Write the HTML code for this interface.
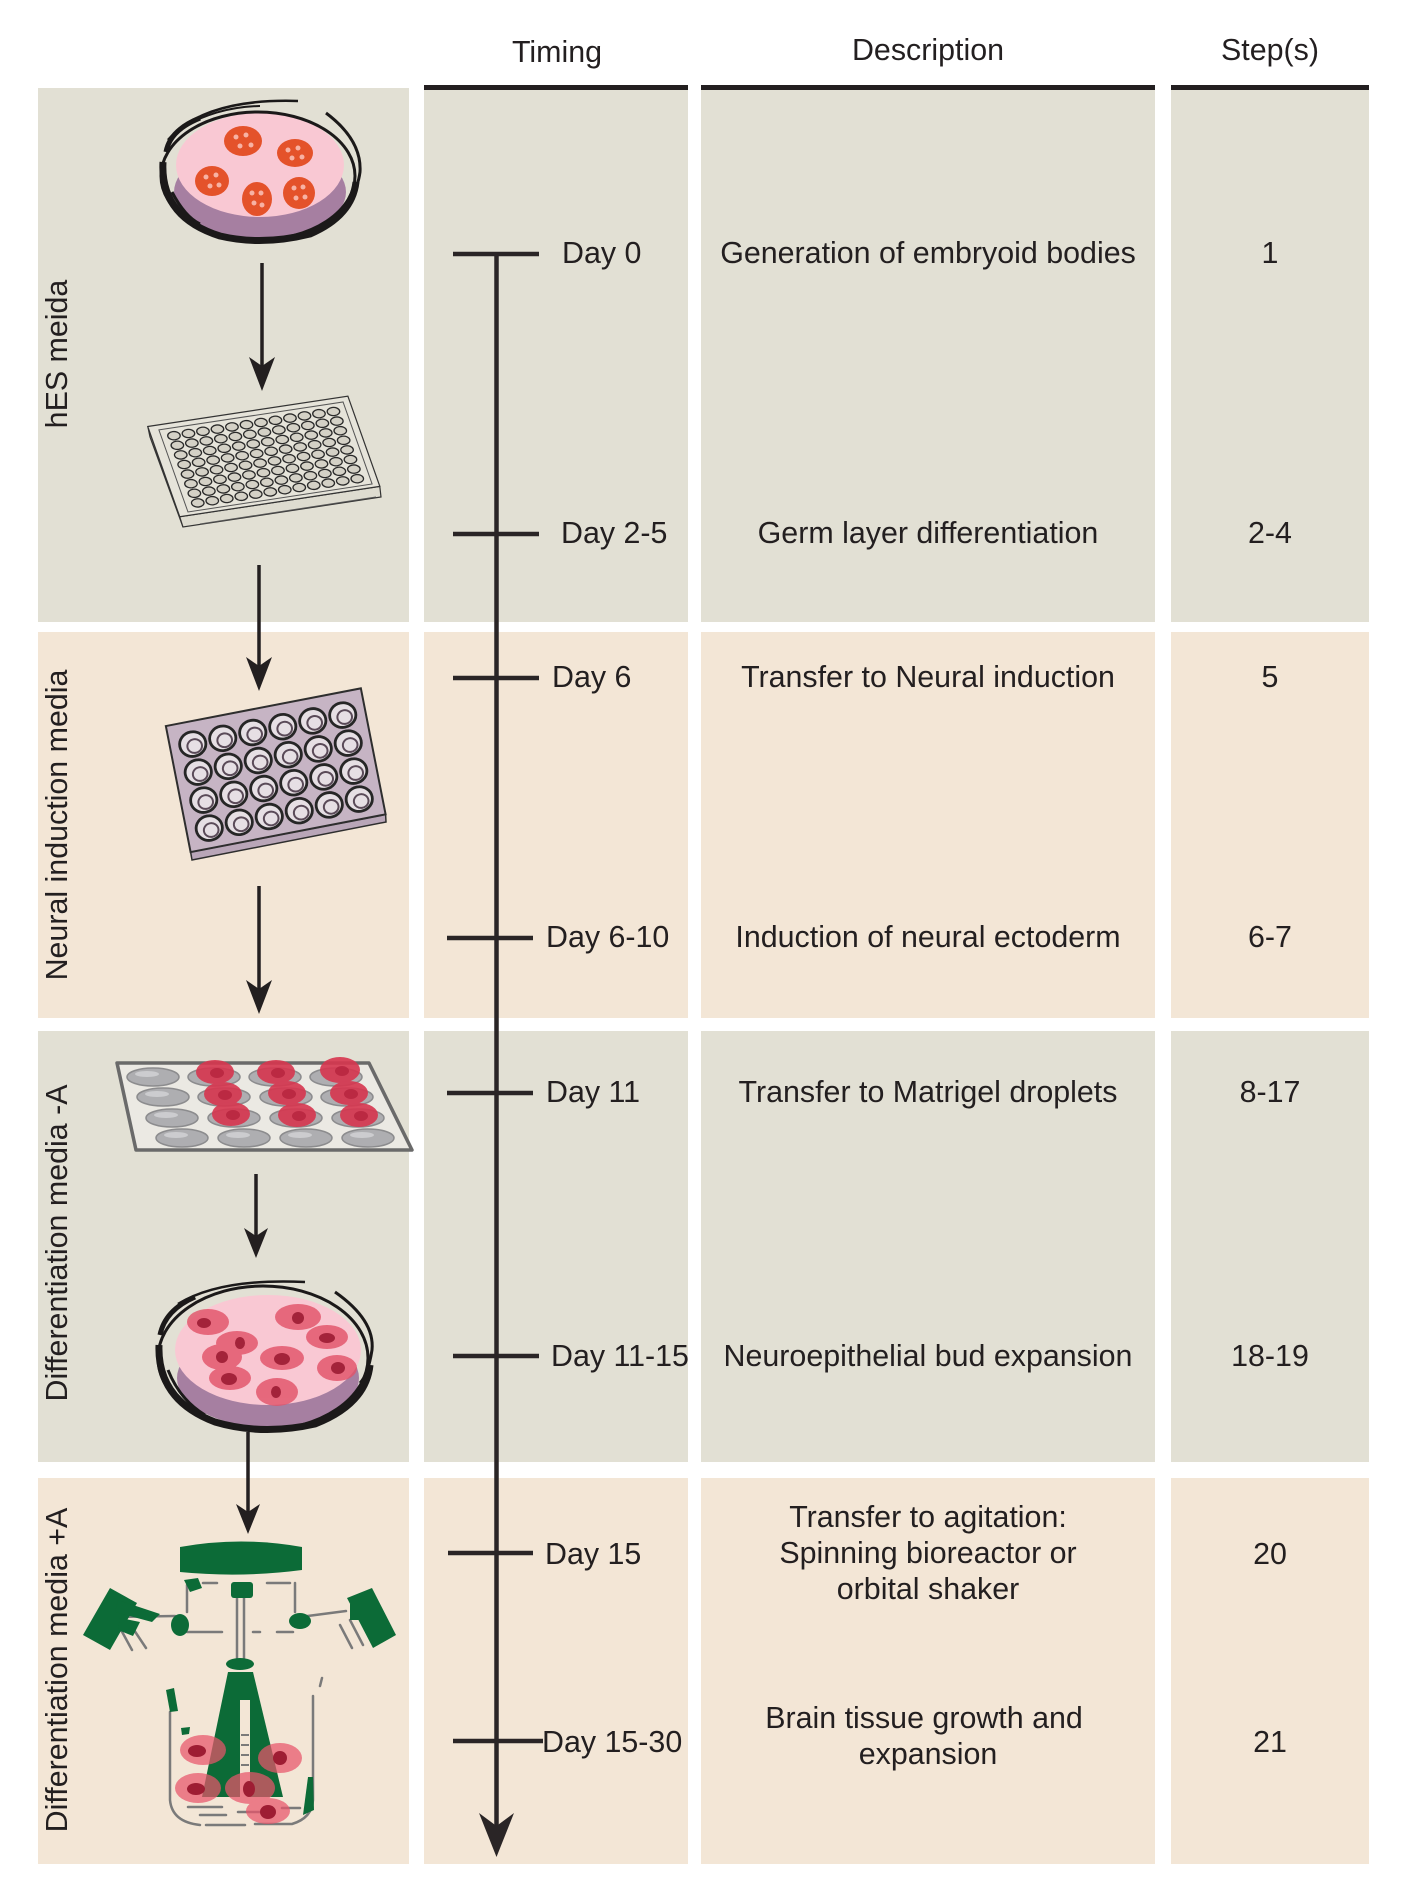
<!DOCTYPE html>
<html>
<head>
<meta charset="utf-8">
<style>
  html, body { margin: 0; padding: 0; background: #ffffff; }
  svg { display: block; }
  text { font-family: "Liberation Sans", Arial, Helvetica, sans-serif; fill: #231f20; }
</style>
</head>
<body>
<svg xmlns="http://www.w3.org/2000/svg" xmlns:xlink="http://www.w3.org/1999/xlink" width="1422" height="1886" viewBox="0 0 1422 1886">
  <rect x="0" y="0" width="1422" height="1886" fill="#ffffff"/>

  <!-- ===== Row backgrounds ===== -->
  <rect x="38" y="88" width="371" height="534" fill="#e2e0d4"/>
  <rect x="424" y="89" width="264" height="533" fill="#e2e0d4"/>
  <rect x="701" y="89" width="454" height="533" fill="#e2e0d4"/>
  <rect x="1171" y="89" width="198" height="533" fill="#e2e0d4"/>
  <rect x="38" y="632" width="371" height="386" fill="#f3e6d6"/>
  <rect x="424" y="632" width="264" height="386" fill="#f3e6d6"/>
  <rect x="701" y="632" width="454" height="386" fill="#f3e6d6"/>
  <rect x="1171" y="632" width="198" height="386" fill="#f3e6d6"/>
  <rect x="38" y="1031" width="371" height="431" fill="#e2e0d4"/>
  <rect x="424" y="1031" width="264" height="431" fill="#e2e0d4"/>
  <rect x="701" y="1031" width="454" height="431" fill="#e2e0d4"/>
  <rect x="1171" y="1031" width="198" height="431" fill="#e2e0d4"/>
  <rect x="38" y="1478" width="371" height="386" fill="#f3e6d6"/>
  <rect x="424" y="1478" width="264" height="386" fill="#f3e6d6"/>
  <rect x="701" y="1478" width="454" height="386" fill="#f3e6d6"/>
  <rect x="1171" y="1478" width="198" height="386" fill="#f3e6d6"/>

  <!-- ===== Header ===== -->
  <text x="557" y="62" font-size="30.4" text-anchor="middle">Timing</text>
  <text x="928" y="60" font-size="30.4" text-anchor="middle">Description</text>
  <text x="1270" y="60" font-size="30.4" text-anchor="middle">Step(s)</text>
  <rect x="424" y="85" width="264" height="5" fill="#231f20"/>
  <rect x="701" y="85" width="454" height="5" fill="#231f20"/>
  <rect x="1171" y="85" width="198" height="5" fill="#231f20"/>

  <!-- ===== Vertical side labels ===== -->
  <text font-size="30.4" text-anchor="middle" transform="translate(67,354) rotate(-90)">hES meida</text>
  <text font-size="30.4" text-anchor="middle" transform="translate(67,825) rotate(-90)">Neural induction media</text>
  <text font-size="30.4" text-anchor="middle" transform="translate(67,1243) rotate(-90)">Differentiation media -A</text>
  <text font-size="30.4" text-anchor="middle" transform="translate(67,1670) rotate(-90)">Differentiation media +A</text>

  <!-- ===== Timeline ===== -->
  <line x1="496.5" y1="253" x2="496.5" y2="1828" stroke="#2a2526" stroke-width="4.5"/>
  <path d="M496.5,1857 L479,1813 L496.5,1826 L514,1813 Z" fill="#2a2526"/>
  <g stroke="#2a2526" stroke-width="4.5">
    <line x1="453" y1="254" x2="539" y2="254"/>
    <line x1="453" y1="534" x2="539" y2="534"/>
    <line x1="453" y1="678" x2="539" y2="678"/>
    <line x1="447" y1="938" x2="533" y2="938"/>
    <line x1="447" y1="1093" x2="533" y2="1093"/>
    <line x1="453" y1="1356" x2="539" y2="1356"/>
    <line x1="448" y1="1553" x2="533" y2="1553"/>
    <line x1="453" y1="1741" x2="543" y2="1741"/>
  </g>
  <g font-size="30.4">
    <text x="562" y="263">Day 0</text>
    <text x="561" y="543">Day 2-5</text>
    <text x="552" y="687">Day 6</text>
    <text x="546" y="947">Day 6-10</text>
    <text x="546" y="1102">Day 11</text>
    <text x="551" y="1366">Day 11-15</text>
    <text x="545" y="1564">Day 15</text>
    <text x="542" y="1752">Day 15-30</text>
  </g>

  <!-- ===== Descriptions ===== -->
  <g font-size="30.4" text-anchor="middle">
    <text x="928" y="263">Generation of embryoid bodies</text>
    <text x="928" y="543">Germ layer differentiation</text>
    <text x="928" y="687">Transfer to Neural induction</text>
    <text x="928" y="947">Induction of neural ectoderm</text>
    <text x="928" y="1102">Transfer to Matrigel droplets</text>
    <text x="928" y="1366">Neuroepithelial bud expansion</text>
    <text x="928" y="1527">Transfer to agitation:</text>
    <text x="928" y="1563">Spinning bioreactor or</text>
    <text x="928" y="1599">orbital shaker</text>
    <text x="924" y="1728">Brain tissue growth and</text>
    <text x="928" y="1764">expansion</text>
  </g>

  <!-- ===== Steps ===== -->
  <g font-size="30.4" text-anchor="middle">
    <text x="1270" y="263">1</text>
    <text x="1270" y="543">2-4</text>
    <text x="1270" y="687">5</text>
    <text x="1270" y="947">6-7</text>
    <text x="1270" y="1102">8-17</text>
    <text x="1270" y="1366">18-19</text>
    <text x="1270" y="1564">20</text>
    <text x="1270" y="1752">21</text>
  </g>

  <!-- ===== Left-panel arrows ===== -->
  <g stroke="#231f20" stroke-width="3.5">
    <line x1="262" y1="263" x2="262" y2="372"/>
    <line x1="259" y1="565" x2="259" y2="672"/>
    <line x1="259" y1="886" x2="259" y2="995"/>
    <line x1="256" y1="1174" x2="256" y2="1240"/>
    <line x1="248" y1="1432" x2="248" y2="1515"/>
  </g>
  <g fill="#231f20">
    <path d="M262,391 L249,357 L262,366 L275,357 Z"/>
    <path d="M259,691 L246,657 L259,666 L272,657 Z"/>
    <path d="M259,1014 L246,980 L259,989 L272,980 Z"/>
    <path d="M256,1258 L244,1228 L256,1236 L268,1228 Z"/>
    <path d="M248,1534 L236,1504 L248,1512 L260,1504 Z"/>
  </g>

  <!-- ===== Petri dish 1 (embryoid bodies) ===== -->
  <g>
    <ellipse cx="260" cy="192" rx="86" ry="47" fill="#a67fa1"/>
    <ellipse cx="260" cy="165" rx="84" ry="52" fill="#f9c8d3"/>
    <ellipse cx="258" cy="176" rx="97" ry="64" fill="none" stroke="#1b1919" stroke-width="3"/>
    <path d="M163,162 Q160,217 220,236 Q262,246 310,234 Q352,216 356,182" fill="none" stroke="#1b1919" stroke-width="7"/>
    <path d="M166,152 Q170,130 200,118" fill="none" stroke="#1b1919" stroke-width="5"/>
    <path d="M168,140 Q205,98 298,101" fill="none" stroke="#1b1919" stroke-width="2.5"/>
    <path d="M178,130 Q215,107 260,106" fill="none" stroke="#1b1919" stroke-width="2"/>
    <path d="M326,113 Q362,140 360,172 Q358,187 352,192" fill="none" stroke="#1b1919" stroke-width="3"/>
    <path d="M172,192 Q185,217 200,224" fill="none" stroke="#1b1919" stroke-width="3"/>
    <g fill="#e4522a">
      <ellipse cx="243" cy="141" rx="19" ry="15"/>
      <ellipse cx="295" cy="153" rx="18" ry="14"/>
      <ellipse cx="212" cy="181" rx="17" ry="15"/>
      <ellipse cx="257" cy="199" rx="15" ry="17"/>
      <ellipse cx="299" cy="193" rx="16" ry="16"/>
    </g>
    <g fill="#f7b2a4">
      <circle cx="236" cy="137" r="2.5"/><circle cx="246" cy="135" r="2.5"/><circle cx="240" cy="146" r="2.5"/><circle cx="251" cy="145" r="2.5"/>
      <circle cx="288" cy="150" r="2.5"/><circle cx="298" cy="148" r="2.5"/><circle cx="292" cy="158" r="2.5"/><circle cx="302" cy="157" r="2.5"/>
      <circle cx="206" cy="177" r="2.5"/><circle cx="216" cy="175" r="2.5"/><circle cx="210" cy="186" r="2.5"/><circle cx="219" cy="185" r="2.5"/>
      <circle cx="252" cy="193" r="2.5"/><circle cx="261" cy="193" r="2.5"/><circle cx="254" cy="203" r="2.5"/><circle cx="262" cy="205" r="2.5"/>
      <circle cx="294" cy="188" r="2.5"/><circle cx="303" cy="187" r="2.5"/><circle cx="296" cy="198" r="2.5"/><circle cx="305" cy="197" r="2.5"/>
    </g>
  </g>

  <!-- ===== 96-well plate ===== -->
  <g>
    <polygon points="147.8,426.5 179.7,516.8 183,527 150,437" fill="#dedcd0" stroke="#333" stroke-width="1.2"/>
    <polygon points="179.7,516.8 379.8,486.4 381,497 183,527" fill="#dedcd0" stroke="#333" stroke-width="1.2"/>
    <line x1="200" y1="524" x2="376" y2="497" stroke="#555" stroke-width="1"/>
    <g transform="matrix(14.5,-2.2,3.4,9.6,165,432)">
      <polygon points="-1,-0.8 12.8,-0.8 12.8,8.6 -1,8.6" fill="#e6e4da" stroke="#333" stroke-width="1.2" vector-effect="non-scaling-stroke"/>
      <polygon points="-0.35,-0.3 12.35,-0.3 12.35,8.25 -0.35,8.25" fill="none" stroke="#555" stroke-width="1" vector-effect="non-scaling-stroke"/>
      <g id="r96">
        <circle cx="0.5" cy="0.5" r="0.42" fill="#d4d1c6" stroke="#2a2a2a" stroke-width="1.3" vector-effect="non-scaling-stroke"/>
        <circle cx="1.5" cy="0.5" r="0.42" fill="#d4d1c6" stroke="#2a2a2a" stroke-width="1.3" vector-effect="non-scaling-stroke"/>
        <circle cx="2.5" cy="0.5" r="0.42" fill="#d4d1c6" stroke="#2a2a2a" stroke-width="1.3" vector-effect="non-scaling-stroke"/>
        <circle cx="3.5" cy="0.5" r="0.42" fill="#d4d1c6" stroke="#2a2a2a" stroke-width="1.3" vector-effect="non-scaling-stroke"/>
        <circle cx="4.5" cy="0.5" r="0.42" fill="#d4d1c6" stroke="#2a2a2a" stroke-width="1.3" vector-effect="non-scaling-stroke"/>
        <circle cx="5.5" cy="0.5" r="0.42" fill="#d4d1c6" stroke="#2a2a2a" stroke-width="1.3" vector-effect="non-scaling-stroke"/>
        <circle cx="6.5" cy="0.5" r="0.42" fill="#d4d1c6" stroke="#2a2a2a" stroke-width="1.3" vector-effect="non-scaling-stroke"/>
        <circle cx="7.5" cy="0.5" r="0.42" fill="#d4d1c6" stroke="#2a2a2a" stroke-width="1.3" vector-effect="non-scaling-stroke"/>
        <circle cx="8.5" cy="0.5" r="0.42" fill="#d4d1c6" stroke="#2a2a2a" stroke-width="1.3" vector-effect="non-scaling-stroke"/>
        <circle cx="9.5" cy="0.5" r="0.42" fill="#d4d1c6" stroke="#2a2a2a" stroke-width="1.3" vector-effect="non-scaling-stroke"/>
        <circle cx="10.5" cy="0.5" r="0.42" fill="#d4d1c6" stroke="#2a2a2a" stroke-width="1.3" vector-effect="non-scaling-stroke"/>
        <circle cx="11.5" cy="0.5" r="0.42" fill="#d4d1c6" stroke="#2a2a2a" stroke-width="1.3" vector-effect="non-scaling-stroke"/>
      </g>
      <use xlink:href="#r96" href="#r96" y="1"/>
      <use xlink:href="#r96" href="#r96" y="2"/>
      <use xlink:href="#r96" href="#r96" y="3"/>
      <use xlink:href="#r96" href="#r96" y="4"/>
      <use xlink:href="#r96" href="#r96" y="5"/>
      <use xlink:href="#r96" href="#r96" y="6"/>
      <use xlink:href="#r96" href="#r96" y="7"/>
    </g>
  </g>

  <!-- ===== 24-well plate (purple) ===== -->
  <g>
    <polygon points="190.6,852 385.6,814.4 386,822 192,860" fill="#b9a6b8" stroke="#2e2e2e" stroke-width="1.5"/>
    <g transform="matrix(30,-5.8,5.5,28,175,733)">
      <polygon points="-0.25,-0.3 6.25,-0.3 6.25,4.2 -0.25,4.2" fill="#c6b4c4" stroke="#2e2e2e" stroke-width="2" vector-effect="non-scaling-stroke"/>
      <g id="r24">
        <circle cx="0.5" cy="0.5" r="0.43" fill="#e6dfe4" stroke="#262626" stroke-width="2.8" vector-effect="non-scaling-stroke"/>
        <circle cx="1.5" cy="0.5" r="0.43" fill="#e6dfe4" stroke="#262626" stroke-width="2.8" vector-effect="non-scaling-stroke"/>
        <circle cx="2.5" cy="0.5" r="0.43" fill="#e6dfe4" stroke="#262626" stroke-width="2.8" vector-effect="non-scaling-stroke"/>
        <circle cx="3.5" cy="0.5" r="0.43" fill="#e6dfe4" stroke="#262626" stroke-width="2.8" vector-effect="non-scaling-stroke"/>
        <circle cx="4.5" cy="0.5" r="0.43" fill="#e6dfe4" stroke="#262626" stroke-width="2.8" vector-effect="non-scaling-stroke"/>
        <circle cx="5.5" cy="0.5" r="0.43" fill="#e6dfe4" stroke="#262626" stroke-width="2.8" vector-effect="non-scaling-stroke"/>
        <circle cx="0.55" cy="0.58" r="0.24" fill="none" stroke="#5a4a58" stroke-width="2" vector-effect="non-scaling-stroke"/>
        <circle cx="1.55" cy="0.58" r="0.24" fill="none" stroke="#5a4a58" stroke-width="2" vector-effect="non-scaling-stroke"/>
        <circle cx="2.55" cy="0.58" r="0.24" fill="none" stroke="#5a4a58" stroke-width="2" vector-effect="non-scaling-stroke"/>
        <circle cx="3.55" cy="0.58" r="0.24" fill="none" stroke="#5a4a58" stroke-width="2" vector-effect="non-scaling-stroke"/>
        <circle cx="4.55" cy="0.58" r="0.24" fill="none" stroke="#5a4a58" stroke-width="2" vector-effect="non-scaling-stroke"/>
        <circle cx="5.55" cy="0.58" r="0.24" fill="none" stroke="#5a4a58" stroke-width="2" vector-effect="non-scaling-stroke"/>
      </g>
      <use xlink:href="#r24" href="#r24" y="1"/>
      <use xlink:href="#r24" href="#r24" y="2"/>
      <use xlink:href="#r24" href="#r24" y="3"/>
    </g>
  </g>

  <!-- ===== Matrigel droplet plate ===== -->
  <g>
    <polygon points="117,1063 369,1063 412,1150 136,1150" fill="#ebe9e3" stroke="#6a6a6a" stroke-width="3.5" stroke-linejoin="round"/>
    <g fill="#aeaeb1" stroke="#8c8c8e" stroke-width="1.5">
      <ellipse cx="153" cy="1077" rx="26" ry="9"/>
      <ellipse cx="214" cy="1077" rx="26" ry="9"/>
      <ellipse cx="275" cy="1077" rx="26" ry="9"/>
      <ellipse cx="336" cy="1077" rx="26" ry="9"/>
      <ellipse cx="163" cy="1097" rx="26" ry="9"/>
      <ellipse cx="224" cy="1097" rx="26" ry="9"/>
      <ellipse cx="286" cy="1097" rx="26" ry="9"/>
      <ellipse cx="347" cy="1097" rx="26" ry="9"/>
      <ellipse cx="172" cy="1118" rx="26" ry="9"/>
      <ellipse cx="234" cy="1118" rx="26" ry="9"/>
      <ellipse cx="296" cy="1118" rx="26" ry="9"/>
      <ellipse cx="358" cy="1118" rx="26" ry="9"/>
      <ellipse cx="182" cy="1138" rx="26" ry="9"/>
      <ellipse cx="244" cy="1138" rx="26" ry="9"/>
      <ellipse cx="306" cy="1138" rx="26" ry="9"/>
      <ellipse cx="368" cy="1138" rx="26" ry="9"/>
    </g>
    <g fill="#d9dadc" opacity="0.7">
      <ellipse cx="147" cy="1074" rx="12" ry="3"/>
      <ellipse cx="157" cy="1094" rx="12" ry="3"/>
      <ellipse cx="166" cy="1115" rx="12" ry="3"/>
      <ellipse cx="176" cy="1135" rx="12" ry="3"/>
      <ellipse cx="238" cy="1135" rx="12" ry="3"/>
      <ellipse cx="300" cy="1135" rx="12" ry="3"/>
      <ellipse cx="362" cy="1135" rx="12" ry="3"/>
    </g>
    <g fill="#d7364f" opacity="0.9">
      <ellipse cx="215" cy="1072" rx="19" ry="12"/>
      <ellipse cx="276" cy="1072" rx="19" ry="12"/>
      <ellipse cx="340" cy="1070" rx="20" ry="13"/>
      <ellipse cx="223" cy="1094" rx="19" ry="12"/>
      <ellipse cx="287" cy="1093" rx="19" ry="12"/>
      <ellipse cx="349" cy="1093" rx="19" ry="12"/>
      <ellipse cx="231" cy="1114" rx="19" ry="12"/>
      <ellipse cx="297" cy="1115" rx="19" ry="12"/>
      <ellipse cx="359" cy="1115" rx="19" ry="12"/>
    </g>
    <g fill="#b21f3a" opacity="0.7">
      <ellipse cx="217" cy="1073" rx="7" ry="5"/>
      <ellipse cx="278" cy="1073" rx="7" ry="5"/>
      <ellipse cx="342" cy="1071" rx="7" ry="5"/>
      <ellipse cx="225" cy="1095" rx="7" ry="5"/>
      <ellipse cx="289" cy="1094" rx="7" ry="5"/>
      <ellipse cx="351" cy="1094" rx="7" ry="5"/>
      <ellipse cx="233" cy="1115" rx="7" ry="5"/>
      <ellipse cx="299" cy="1116" rx="7" ry="5"/>
      <ellipse cx="361" cy="1116" rx="7" ry="5"/>
    </g>
  </g>

  <!-- ===== Petri dish 2 (buds) ===== -->
  <g>
    <ellipse cx="268" cy="1378" rx="91" ry="49" fill="#a67fa1"/>
    <ellipse cx="268" cy="1350" rx="93" ry="55" fill="#f9c8d3"/>
    <ellipse cx="263" cy="1358" rx="105" ry="72" fill="none" stroke="#1b1919" stroke-width="3"/>
    <path d="M159,1345 Q157,1400 215,1422 Q262,1436 315,1424 Q366,1404 370,1365" fill="none" stroke="#1b1919" stroke-width="7"/>
    <path d="M160,1335 Q165,1310 195,1297" fill="none" stroke="#1b1919" stroke-width="5"/>
    <path d="M178,1304 Q220,1278 305,1282" fill="none" stroke="#1b1919" stroke-width="2.5"/>
    <path d="M335,1292 Q375,1320 372,1350 Q368,1375 360,1383" fill="none" stroke="#1b1919" stroke-width="3"/>
    <path d="M168,1370 Q180,1400 205,1415" fill="none" stroke="#1b1919" stroke-width="3"/>
    <g fill="#e2546a" opacity="0.82">
      <ellipse cx="208" cy="1322" rx="21" ry="13"/>
      <ellipse cx="298" cy="1317" rx="23" ry="13"/>
      <ellipse cx="327" cy="1337" rx="21" ry="12"/>
      <ellipse cx="237" cy="1343" rx="21" ry="12"/>
      <ellipse cx="222" cy="1357" rx="20" ry="13"/>
      <ellipse cx="282" cy="1358" rx="22" ry="12"/>
      <ellipse cx="337" cy="1368" rx="20" ry="13"/>
      <ellipse cx="230" cy="1378" rx="21" ry="12"/>
      <ellipse cx="277" cy="1392" rx="21" ry="14"/>
    </g>
    <g fill="#a3233a">
      <ellipse cx="204" cy="1323" rx="7" ry="5"/>
      <ellipse cx="298" cy="1318" rx="6" ry="6"/>
      <ellipse cx="327" cy="1338" rx="8" ry="5"/>
      <ellipse cx="240" cy="1343" rx="5" ry="6"/>
      <ellipse cx="222" cy="1357" rx="6" ry="6"/>
      <ellipse cx="282" cy="1359" rx="8" ry="6"/>
      <ellipse cx="338" cy="1368" rx="7" ry="6"/>
      <ellipse cx="229" cy="1379" rx="8" ry="6"/>
      <ellipse cx="276" cy="1392" rx="5" ry="6"/>
    </g>
  </g>

  <!-- ===== Spinning bioreactor ===== -->
  <g>
    <g fill="none" stroke="#7a7a7a" stroke-width="2.5" stroke-linecap="round">
      <path d="M237,1597 V1658 M244,1597 V1658"/>
      <path d="M187,1585 V1612 M203,1583 H217 M267,1583 H290 M295,1583 V1612"/>
      <path d="M187,1632 H222 M253,1632 H260 M277,1632 H293"/>
      <path d="M112,1617 L175,1616 M120,1628 L132,1650 M128,1621 L146,1648"/>
      <path d="M300,1617 L346,1611 M340,1625 L352,1648 M350,1620 L363,1645"/>
      <path d="M170,1712 V1800 Q172,1822 200,1825 M206,1825 H245 M255,1824 H292 Q312,1818 313,1800 V1696"/>
      <path d="M188,1807 H222 M200,1815 H226 M238,1812 H260 M282,1808 H300"/>
      <path d="M322,1678 L320,1686"/>
    </g>
    <g fill="#0c6b37">
      <path d="M180,1547 Q241,1536 302,1547 L302,1570 Q241,1578 180,1572 Z"/>
      <rect x="231" y="1582" width="22" height="16" rx="3"/>
      <path d="M184,1580 L198,1578 L202,1588 L190,1592 Z"/>
      <polygon points="83,1635 110,1588 137,1603 110,1650"/>
      <polygon points="118,1600 160,1614 152,1622 115,1612"/>
      <polygon points="120,1618 140,1622 133,1636 118,1630"/>
      <ellipse cx="180" cy="1625" rx="9" ry="11"/>
      <polygon points="347,1598 372,1588 396,1635 373,1648"/>
      <ellipse cx="300" cy="1621" rx="11" ry="8"/>
      <rect x="350" y="1604" width="9" height="16"/>
      <ellipse cx="240" cy="1664" rx="14" ry="6"/>
      <path d="M228,1672 L253,1672 L283,1797 L202,1797 Z"/>
      <path d="M166,1690 L174,1688 L178,1711 L170,1712 Z"/>
      <path d="M181,1728 L190,1727 L189,1734 L182,1735 Z"/>
      <path d="M308,1777 L313,1777 L314,1810 L303,1815 Z"/>
    </g>
    <rect x="240" y="1700" width="10" height="97" fill="#f3e6d6"/>
    <g stroke="#7a7a7a" stroke-width="2">
      <path d="M241,1735 H249 M241,1745 H249 M241,1755 H249 M241,1765 H249"/>
    </g>
    <g fill="#e9556b" opacity="0.72">
      <ellipse cx="203" cy="1750" rx="23" ry="15"/>
      <ellipse cx="280" cy="1758" rx="22" ry="15"/>
      <ellipse cx="198" cy="1788" rx="23" ry="15"/>
      <ellipse cx="250" cy="1788" rx="25" ry="16"/>
      <ellipse cx="268" cy="1811" rx="22" ry="13"/>
    </g>
    <g fill="#9e1d33">
      <ellipse cx="197" cy="1751" rx="9" ry="6"/>
      <ellipse cx="280" cy="1758" rx="7" ry="7"/>
      <ellipse cx="196" cy="1789" rx="9" ry="6"/>
      <ellipse cx="249" cy="1789" rx="6" ry="8"/>
      <ellipse cx="268" cy="1812" rx="8" ry="7"/>
    </g>
  </g>
</svg>
</body>
</html>
